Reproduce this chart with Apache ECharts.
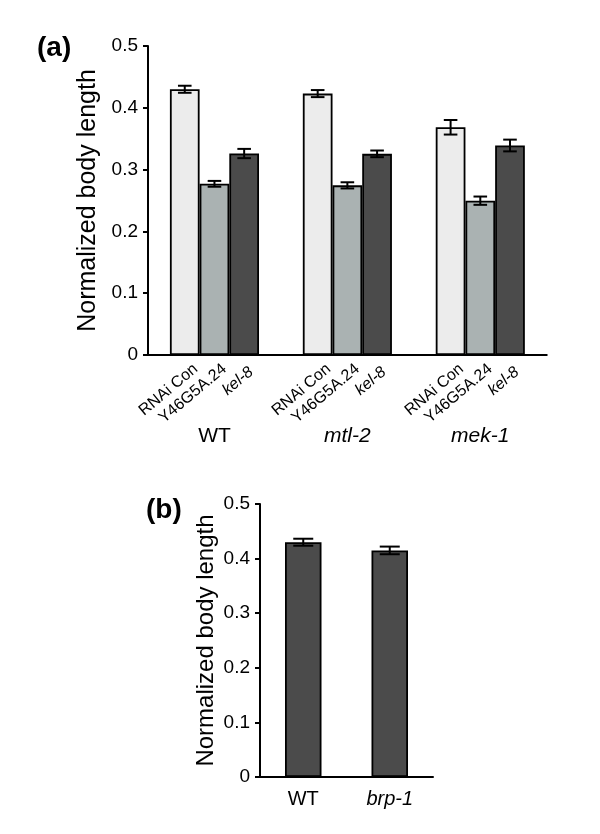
<!DOCTYPE html>
<html>
<head>
<meta charset="utf-8">
<script src="https://cdn.jsdelivr.net/npm/echarts@6/dist/echarts.min.js"></script>
<style>html,body{margin:0;padding:0;background:#fff}#c{width:600px;height:834px}</style>
</head>
<body>
<div id="c"></div>
<script>
// ---- Data (panel a) ----
const groups = ['WT', 'mtl-2', 'mek-1'];
const groupItalic = [false, true, true];
const treatments = ['RNAi Con', 'Y46G5A.24', 'kel-8'];
const treatmentItalic = [false, false, true];
const rnaiConMean = [0.430, 0.423, 0.3685];
const rnaiConErr = [0.0057, 0.0057, 0.0118];
const y46Mean = [0.277, 0.2745, 0.2497];
const y46Err = [0.0047, 0.0050, 0.0067];
const kel8Mean = [0.326, 0.3255, 0.339];
const kel8Err = [0.0075, 0.0054, 0.0095];
// ---- Data (panel b) ----
const strains = ['WT', 'brp-1'];
const strainItalic = [false, true];
const strainMean = [0.430, 0.415];
const strainErr = [0.0064, 0.0070];

const FONT = 'Liberation Sans, Arial, Helvetica, sans-serif';
const colors = ['#ececec', '#aab2b2', '#4b4b4b'];
const means = [rnaiConMean, y46Mean, kel8Mean];
const errs = [rnaiConErr, y46Err, kel8Err];
const BW_A = 29.7, BW_B = 36.5;
const labelDx = [11, 10, 7], labelDy = [12, 12, 15];

const chart = echarts.init(document.getElementById('c'), null, {renderer: 'canvas'});

function italicFmt(names, flags) {
  return function (v) {
    const i = names.indexOf(v);
    return flags[i] ? '{i|' + v + '}' : '{n|' + v + '}';
  };
}

const series = [];
means.forEach((m, s) => {
  series.push({
    type: 'bar', name: treatments[s], xAxisIndex: 0, yAxisIndex: 0,
    data: m, barWidth: BW_A, barGap: '0%',
    itemStyle: {color: colors[s], borderColor: '#000', borderWidth: 1.8},
    z: 2
  });
});
const errDataA = [];
means.forEach((m, s) => m.forEach((v, g) => errDataA.push([g, v, errs[s][g], s])));
series.push({
  type: 'custom', xAxisIndex: 0, yAxisIndex: 0, z: 5,
  data: errDataA,
  renderItem: function (params, api) {
    const g = api.value(0), v = api.value(1), e = api.value(2), s = api.value(3);
    const off = (s - 1) * BW_A;
    const top = api.coord([g, v + e]);
    const bot = api.coord([g, v - e]);
    const x = top[0] + off, hw = 6.8;
    const st = {stroke: '#000', lineWidth: 2};
    return {type: 'group', children: [
      {type: 'line', shape: {x1: x, y1: top[1], x2: x, y2: bot[1]}, style: st},
      {type: 'line', shape: {x1: x - hw, y1: top[1], x2: x + hw, y2: top[1]}, style: st},
      {type: 'line', shape: {x1: x - hw, y1: bot[1], x2: x + hw, y2: bot[1]}, style: st}
    ]};
  }
});
const labelData = [];
groups.forEach((gname, g) => treatments.forEach((t, s) => labelData.push([g, 0, s])));
series.push({
  type: 'custom', xAxisIndex: 0, yAxisIndex: 0, z: 6, silent: true,
  data: labelData,
  renderItem: function (params, api) {
    const g = api.value(0), s = api.value(2);
    const p = api.coord([g, 0]);
    const x = p[0] + (s - 1) * BW_A + labelDx[s];
    const y = p[1] + labelDy[s];
    return {
      type: 'text', x: x, y: y, rotation: 40 * Math.PI / 180,
      style: {
        text: treatments[s], align: 'right', verticalAlign: 'middle',
        font: (treatmentItalic[s] ? 'italic ' : '') + '16px ' + FONT, fill: '#000'
      }
    };
  }
});
series.push({
  type: 'bar', xAxisIndex: 1, yAxisIndex: 1, data: strainMean, barWidth: BW_B,
  itemStyle: {color: '#4b4b4b', borderColor: '#000', borderWidth: 1.8}, z: 2
});
series.push({
  type: 'custom', xAxisIndex: 1, yAxisIndex: 1, z: 5,
  data: strainMean.map((v, i) => [i, v, strainErr[i]]),
  renderItem: function (params, api) {
    const g = api.value(0), v = api.value(1), e = api.value(2);
    const top = api.coord([g, v + e]);
    const bot = api.coord([g, v - e]);
    const x = top[0], hw = 10;
    const st = {stroke: '#000', lineWidth: 2};
    return {type: 'group', children: [
      {type: 'line', shape: {x1: x, y1: top[1], x2: x, y2: bot[1]}, style: st},
      {type: 'line', shape: {x1: x - hw, y1: top[1], x2: x + hw, y2: top[1]}, style: st},
      {type: 'line', shape: {x1: x - hw, y1: bot[1], x2: x + hw, y2: bot[1]}, style: st}
    ]};
  }
});

const axisLineStyle = {color: '#000', width: 2};

chart.setOption({
  animation: false,
  backgroundColor: '#fff',
  textStyle: {fontFamily: FONT},
  title: [
    {text: '(a)', left: 32, top: 29, textStyle: {fontFamily: FONT, fontWeight: 'bold', fontSize: 28, color: '#000'}},
    {text: '(b)', left: 141, top: 491, textStyle: {fontFamily: FONT, fontWeight: 'bold', fontSize: 28, color: '#000'}}
  ],
  grid: [
    {left: 148, right: 53.25, top: 46, bottom: 479},
    {left: 260, right: 167, top: 504, bottom: 57}
  ],
  xAxis: [
    {
      type: 'category', gridIndex: 0, data: groups,
      axisLine: {lineStyle: axisLineStyle}, axisTick: {show: false},
      axisLabel: {
        margin: 71, formatter: italicFmt(groups, groupItalic),
        rich: {
          n: {fontFamily: FONT, fontSize: 21, color: '#000'},
          i: {fontFamily: FONT, fontSize: 21, fontStyle: 'italic', color: '#000'}
        }
      }
    },
    {
      type: 'category', gridIndex: 1, data: strains,
      axisLine: {lineStyle: axisLineStyle}, axisTick: {show: false},
      axisLabel: {
        margin: 12, formatter: italicFmt(strains, strainItalic),
        rich: {
          n: {fontFamily: FONT, fontSize: 20, color: '#000'},
          i: {fontFamily: FONT, fontSize: 20, fontStyle: 'italic', color: '#000'}
        }
      }
    }
  ],
  yAxis: [
    {
      type: 'value', gridIndex: 0, min: 0, max: 0.5, interval: 0.1,
      name: 'Normalized body length', nameLocation: 'middle', nameGap: 41,
      nameTextStyle: {fontFamily: FONT, fontSize: 25, color: '#000'},
      axisLine: {show: true, lineStyle: axisLineStyle},
      axisTick: {show: true, length: 5, lineStyle: {color: '#000', width: 2}},
      axisLabel: {margin: 10, fontFamily: FONT, fontSize: 19, color: '#000'},
      splitLine: {show: false}
    },
    {
      type: 'value', gridIndex: 1, min: 0, max: 0.5, interval: 0.1,
      name: 'Normalized body length', nameLocation: 'middle', nameGap: 42,
      nameTextStyle: {fontFamily: FONT, fontSize: 24, color: '#000'},
      axisLine: {show: true, lineStyle: axisLineStyle},
      axisTick: {show: true, length: 5, lineStyle: {color: '#000', width: 2}},
      axisLabel: {margin: 10, fontFamily: FONT, fontSize: 19, color: '#000'},
      splitLine: {show: false}
    }
  ],
  series: series
});
</script>
</body>
</html>
